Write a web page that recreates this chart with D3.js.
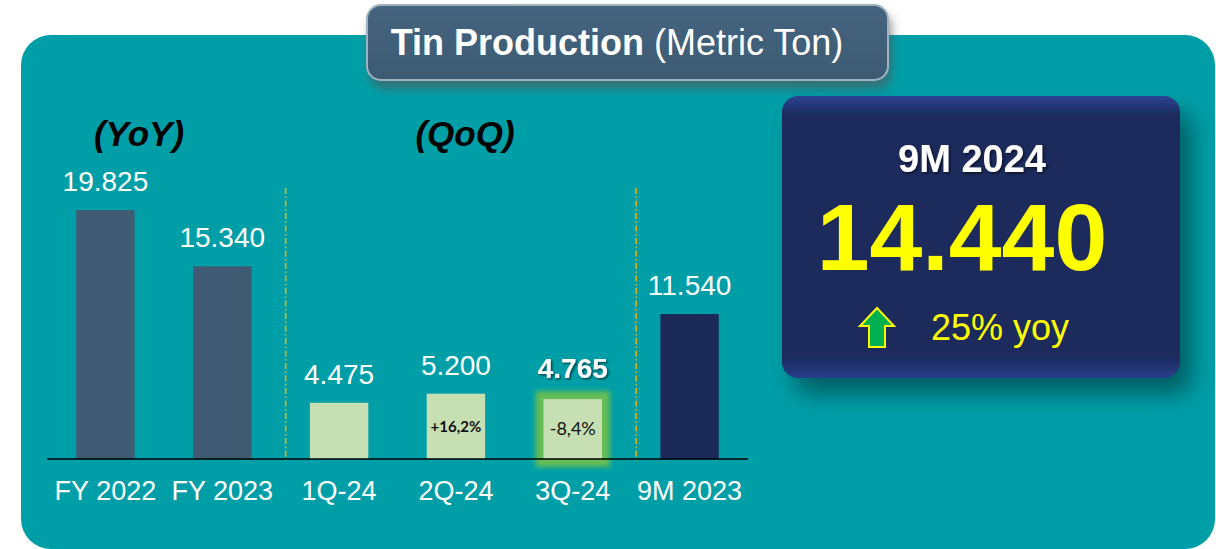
<!DOCTYPE html>
<html>
<head>
<meta charset="utf-8">
<script src="https://cdn.jsdelivr.net/npm/d3@7"></script>
<style>
  html, body { margin: 0; padding: 0; background: #ffffff; }
  svg { display: block; font-family: "Liberation Sans", Arial, sans-serif; }
</style>
</head>
<body>
<svg id="chart" width="1216" height="549"></svg>
<script>
// ---- data ----
const categories = ["FY 2022", "FY 2023", "1Q-24", "2Q-24", "3Q-24", "9M 2023"];
const values = [19825, 15340, 4475, 5200, 4765, 11540];
const valueLabels = ["19.825", "15.340", "4.475", "5.200", "4.765", "11.540"];
const changeLabels = ["", "", "", "+16,2%", "-8,4%", ""];
const groupLabels = ["(YoY)", "(QoQ)"];
const titleBold = "Tin Production";
const titleRest = " (Metric Ton)";
const highlightPeriod = "9M 2024";
const highlightValue = "14.440";
const highlightChange = "25% yoy";

// ---- styles ----
const barColors = ["#3e5b73", "#3e5b73", "#c6e0b4", "#c6e0b4", "#c6e0b4", "#1b2957"];

const svg = d3.select("#chart");
const defs = svg.append("defs");

// filters
const sh = defs.append("filter").attr("id", "shadow")
  .attr("filterUnits", "userSpaceOnUse")
  .attr("x", 740).attr("y", 60).attr("width", 476).attr("height", 400);
sh.append("feGaussianBlur").attr("in", "SourceAlpha").attr("stdDeviation", 12).attr("result", "bl");
sh.append("feOffset").attr("in", "bl").attr("dx", 12).attr("dy", 16).attr("result", "off");
sh.append("feFlood").attr("flood-color", "#00474b").attr("flood-opacity", 0.75).attr("result", "fc");
sh.append("feComposite").attr("in", "fc").attr("in2", "off").attr("operator", "in").attr("result", "s");
const sm = sh.append("feMerge");
sm.append("feMergeNode").attr("in", "s");
sm.append("feMergeNode").attr("in", "SourceGraphic");

const sh2 = defs.append("filter").attr("id", "tshadow").attr("x", "-10%").attr("y", "-20%").attr("width", "130%").attr("height", "170%");
sh2.append("feDropShadow").attr("dx", 3).attr("dy", 8).attr("stdDeviation", 5).attr("flood-color", "#555").attr("flood-opacity", 0.6);

const glow = defs.append("filter").attr("id", "glow")
  .attr("filterUnits", "userSpaceOnUse")
  .attr("x", 510).attr("y", 370).attr("width", 130).attr("height", 110);
glow.append("feMorphology").attr("in", "SourceAlpha").attr("operator", "dilate").attr("radius", 8).attr("result", "d");
glow.append("feGaussianBlur").attr("in", "d").attr("stdDeviation", 2.5).attr("result", "b");
glow.append("feFlood").attr("flood-color", "#66bd52").attr("result", "c");
glow.append("feComposite").attr("in", "c").attr("in2", "b").attr("operator", "in").attr("result", "g");
const gm = glow.append("feMerge");
gm.append("feMergeNode").attr("in", "g");
gm.append("feMergeNode").attr("in", "SourceGraphic");

const txs = defs.append("filter").attr("id", "txtshadow");
txs.append("feDropShadow").attr("dx", 1.5).attr("dy", 1.5).attr("stdDeviation", 1).attr("flood-color", "#000").attr("flood-opacity", 0.6);

const tg = defs.append("linearGradient").attr("id", "titleGrad").attr("x1", 0).attr("y1", 0).attr("x2", 0).attr("y2", 1);
tg.append("stop").attr("offset", "0%").attr("stop-color", "#466580");
tg.append("stop").attr("offset", "100%").attr("stop-color", "#3c5a72");

const pg = defs.append("linearGradient").attr("id", "panelGrad").attr("x1", 0).attr("y1", 0).attr("x2", 0).attr("y2", 1);
pg.append("stop").attr("offset", "0%").attr("stop-color", "#2c4492");
pg.append("stop").attr("offset", "7%").attr("stop-color", "#1b2a5c");
pg.append("stop").attr("offset", "92%").attr("stop-color", "#1b2a5c");
pg.append("stop").attr("offset", "100%").attr("stop-color", "#283d8a");

// teal background panel
svg.append("rect")
  .attr("x", 21).attr("y", 35).attr("width", 1194).attr("height", 514)
  .attr("rx", 30).attr("ry", 30)
  .attr("fill", "#009fa8");

// ---- bar chart ----
const x = d3.scaleBand().domain(categories).range([47, 748]).paddingInner(0.5).paddingOuter(0.25);
const y = d3.scaleLinear().domain([0, 19825]).range([459, 210]);

// dashed separators
const sepAfter = [1, 4];
sepAfter.forEach(i => {
  const sx = (x(categories[i]) + x.bandwidth() + x(categories[i + 1])) / 2 + 5;
  svg.append("line")
    .attr("x1", sx).attr("x2", sx).attr("y1", 188).attr("y2", 463)
    .attr("stroke", "#d8b41c").attr("stroke-width", 1.6)
    .attr("stroke-dasharray", "6,2.5,1.5,2.5");
});

// bars
svg.selectAll("rect.bar")
  .data(categories)
  .join("rect")
  .attr("class", "bar")
  .attr("x", d => x(d))
  .attr("y", (d, i) => y(values[i]))
  .attr("width", x.bandwidth())
  .attr("height", (d, i) => y(0) - y(values[i]))
  .attr("fill", (d, i) => barColors[i])
  .attr("filter", (d, i) => i === 4 ? "url(#glow)" : null);

// baseline axis
const xAxis = d3.axisBottom(x).tickSize(0).tickPadding(22);
const ax = svg.append("g").attr("transform", "translate(0,459)").call(xAxis);
ax.select(".domain").attr("stroke", "#000").attr("stroke-width", 1.3).attr("d", "M47,0H748");
ax.selectAll(".tick text")
  .attr("fill", "#ffffff")
  .attr("font-size", 27)
  .attr("font-family", "Liberation Sans, Arial, sans-serif")
  .attr("dy", "0.71em");

// value labels
svg.selectAll("text.val")
  .data(categories)
  .join("text")
  .attr("class", "val")
  .attr("x", d => x(d) + x.bandwidth() / 2)
  .attr("y", (d, i) => y(values[i]) - (i === 4 ? 21 : 19))
  .attr("text-anchor", "middle")
  .attr("fill", "#ffffff")
  .attr("font-size", 28)
  .attr("font-weight", (d, i) => i === 4 ? "bold" : "normal")
  .attr("filter", (d, i) => i === 4 ? "url(#txtshadow)" : null)
  .text((d, i) => valueLabels[i]);

// change labels inside bars
svg.selectAll("text.chg")
  .data(categories)
  .join("text")
  .attr("class", "chg")
  .attr("x", d => x(d) + x.bandwidth() / 2)
  .attr("y", (d, i) => (y(values[i]) + y(0)) / 2 + 6)
  .attr("text-anchor", "middle")
  .attr("fill", "#111")
  .attr("font-family", "Lato, 'Open Sans', sans-serif")
  .attr("font-size", (d, i) => i === 3 ? 15 : 18)
  .attr("font-weight", (d, i) => i === 3 ? "bold" : "normal")
  .text((d, i) => changeLabels[i]);

// group labels
const groupX = [139, 465];
groupLabels.forEach((g, i) => {
  svg.append("text")
    .attr("x", groupX[i]).attr("y", 146)
    .attr("text-anchor", "middle")
    .attr("font-size", 35).attr("font-weight", "bold").attr("font-style", "italic")
    .attr("fill", "#000")
    .text(g);
});

// ---- title box ----
svg.append("rect")
  .attr("x", 367).attr("y", 5).attr("width", 521).attr("height", 75)
  .attr("rx", 14).attr("ry", 14)
  .attr("fill", "url(#titleGrad)")
  .attr("stroke", "#9fb2c0").attr("stroke-width", 2)
  .attr("filter", "url(#tshadow)");
const tt = svg.append("text")
  .attr("x", 617).attr("y", 55)
  .attr("text-anchor", "middle")
  .attr("fill", "#ffffff")
  .attr("font-size", 36)
  .attr("font-family", "Liberation Sans, Arial, sans-serif");
tt.append("tspan").attr("font-weight", "bold").text(titleBold);
tt.append("tspan").attr("font-weight", "normal").text(titleRest);

// ---- highlight panel ----
svg.append("rect")
  .attr("x", 782).attr("y", 96).attr("width", 398).attr("height", 282)
  .attr("rx", 16).attr("ry", 16)
  .attr("fill", "url(#panelGrad)")
  .attr("filter", "url(#shadow)");

svg.append("text")
  .attr("x", 972).attr("y", 172)
  .attr("text-anchor", "middle")
  .attr("fill", "#ffffff").attr("font-size", 38).attr("font-weight", "bold")
  .attr("filter", "url(#txtshadow)")
  .text(highlightPeriod);

svg.append("text")
  .attr("x", 962).attr("y", 270)
  .attr("text-anchor", "middle")
  .attr("fill", "#ffff00").attr("font-size", 95).attr("font-weight", "bold")
  .text(highlightValue);

svg.append("polygon")
  .attr("points", "877,308 894,326 885,326 885,347 869,347 869,326 860,326")
  .attr("fill", "#00b050").attr("stroke", "#ffff00").attr("stroke-width", 2).attr("stroke-linejoin", "miter");

svg.append("text")
  .attr("x", 931).attr("y", 340)
  .attr("fill", "#ffff00").attr("font-size", 36)
  .text(highlightChange);
</script>
</body>
</html>
